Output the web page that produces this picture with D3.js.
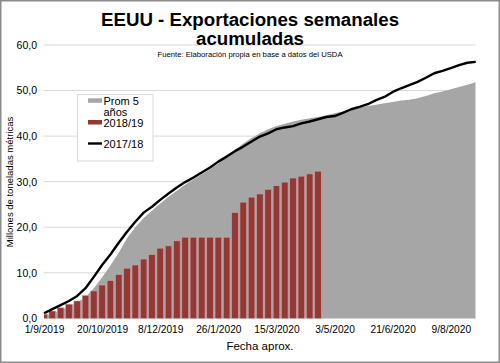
<!DOCTYPE html>
<html>
<head>
<meta charset="utf-8">
<script src="https://cdn.jsdelivr.net/npm/d3@7"></script>
<style>
  body { margin: 0; background: #fff; }
  svg { font-family: "Liberation Sans", Arial, sans-serif; display: block; }
</style>
</head>
<body>
<div id="chart-area"></div>
<script>
// weekly series, week 0 = 1/9/2019
var xLabels = ["1/9/2019", "20/10/2019", "8/12/2019", "26/1/2020", "15/3/2020", "3/5/2020", "21/6/2020", "9/8/2020"];
var xTickIdx = [0, 7, 14, 21, 28, 35, 42, 49];
var yTicks = [0, 10, 20, 30, 40, 50, 60];

// Prom 5 anios (area)
var prom5 = [0.5, 1.1, 1.8, 2.6, 3.4, 4.7, 6.6, 9.0, 11.6, 14.4,
    17.6, 20.0, 22.0, 23.6, 25.2, 26.7, 28.0, 29.3, 30.5, 31.6,
    32.7, 34.0, 35.3, 36.9, 38.4, 39.6, 40.6, 41.5, 42.2, 42.7,
    43.2, 43.6, 43.9, 44.2, 44.6, 45.0, 45.4, 45.9, 46.2, 46.6,
    46.9, 47.2, 47.5, 47.8, 48.0, 48.3, 48.8, 49.4, 49.8, 50.3,
    50.8, 51.3, 51.8];

// 2018/19 (bars)
var s1819 = [0.9, 1.6, 2.3, 3.1, 3.8, 5.0, 6.0, 7.3, 8.3, 9.6,
    11.0, 11.7, 13.0, 14.0, 15.4, 15.9, 17.0, 17.8, 17.8, 17.8,
    17.8, 17.8, 17.8, 23.2, 25.5, 26.6, 27.3, 28.3, 29.1, 29.9,
    30.8, 31.2, 31.7, 32.3];

// 2017/18 (line)
var s1718 = [1.1, 2.0, 2.9, 3.8, 4.9, 6.6, 9.1, 11.7, 14.0, 16.6,
    19.0, 21.2, 23.2, 24.5, 26.0, 27.4, 28.7, 29.9, 30.9, 32.0,
    33.1, 34.4, 35.5, 36.7, 37.7, 38.8, 39.9, 40.6, 41.5, 41.9,
    42.2, 42.8, 43.2, 43.7, 44.2, 44.4, 45.1, 45.9, 46.4, 47.0,
    47.9, 48.6, 49.7, 50.5, 51.2, 51.9, 52.8, 53.8, 54.3, 54.9,
    55.6, 56.1, 56.3];

var W = 500, H = 363;
var svg = d3.select("#chart-area").append("svg")
    .attr("width", W)
    .attr("height", H);

// outer frame
svg.append("rect")
    .attr("x", 0.75).attr("y", 0.75)
    .attr("width", W - 1.5).attr("height", H - 1.5)
    .attr("fill", "#fff")
    .attr("stroke", "#8c8c8c")
    .attr("stroke-width", 1.5);

var x = d3.scaleLinear().domain([0, 52]).range([44, 475.7]);
var y = d3.scaleLinear().domain([0, 60]).range([318.3, 45]);

// gridlines
svg.append("g")
    .selectAll("line")
    .data(yTicks).enter()
    .append("line")
        .attr("x1", 43.5).attr("x2", 475.7)
        .attr("y1", function(d) { return y(d); })
        .attr("y2", function(d) { return y(d); })
        .attr("stroke", "#d9d9d9")
        .attr("stroke-width", 1);

// y axis labels
var yAxis = svg.append("g")
    .attr("transform", "translate(37 0)")
    .call(d3.axisLeft(y).tickValues(yTicks).tickSize(0).tickPadding(0)
        .tickFormat(function(d) { return d3.format(".1f")(d).replace(".", ","); }));
yAxis.select(".domain").remove();
yAxis.selectAll("text")
    .attr("font-family", "Liberation Sans, Arial, sans-serif")
    .attr("font-size", 10.5)
    .attr("fill", "#000");

// x axis labels
var xAxis = svg.append("g")
    .attr("transform", "translate(0 326)")
    .call(d3.axisBottom(x).tickValues(xTickIdx).tickSize(0).tickPadding(0)
        .tickFormat(function(d, i) { return xLabels[i]; }));
xAxis.select(".domain").remove();
xAxis.selectAll("text")
    .attr("font-family", "Liberation Sans, Arial, sans-serif")
    .attr("font-size", 10.2)
    .attr("fill", "#000");

// clip to the plot area
svg.append("clipPath").attr("id", "plot-clip")
    .append("rect")
    .attr("x", 44).attr("y", 40)
    .attr("width", 475.7 - 44).attr("height", 280);

var plot = svg.append("g").attr("clip-path", "url(#plot-clip)");

// area
var area = d3.area()
    .x(function(d, i) { return x(i); })
    .y0(y(0))
    .y1(function(d) { return y(d); });
plot.append("path")
    .datum(prom5)
    .attr("d", area)
    .attr("fill", "#a6a6a6");

// bars
var barW = 6.6;
plot.selectAll(".bar")
    .data(s1819).enter()
    .append("rect")
        .attr("class", "bar")
        .attr("x", function(d, i) { return x(i) - barW / 2; })
        .attr("y", function(d) { return y(d); })
        .attr("width", barW)
        .attr("height", function(d) { return y(0) - y(d); })
        .attr("fill", "#953735")
        .attr("stroke", "#c4a3a2")
        .attr("stroke-width", 0.6);

// line
var line = d3.line()
    .x(function(d, i) { return x(i); })
    .y(function(d) { return y(d); });
svg.append("path")
    .datum(s1718)
    .attr("d", line)
    .attr("fill", "none")
    .attr("stroke", "#000")
    .attr("stroke-width", 2.4)
    .attr("stroke-linejoin", "round");

// legend
var lg = svg.append("g");
lg.append("rect")
    .attr("x", 77.5).attr("y", 94.5)
    .attr("width", 75.5).attr("height", 66.5)
    .attr("fill", "#fff")
    .attr("stroke", "#d9d9d9");
lg.append("rect").attr("x", 88).attr("y", 98.3).attr("width", 14).attr("height", 4.5).attr("fill", "#a6a6a6");
lg.append("rect").attr("x", 88).attr("y", 120).attr("width", 14).attr("height", 4.5).attr("fill", "#953735");
lg.append("line").attr("x1", 88).attr("x2", 102).attr("y1", 143.5).attr("y2", 143.5)
    .attr("stroke", "#000").attr("stroke-width", 2.4);
var legendText = [["Prom 5", 104.5], ["años", 115.5], ["2018/19", 127], ["2017/18", 147.5]];
lg.selectAll("text.lg")
    .data(legendText).enter()
    .append("text")
        .attr("class", "lg")
        .attr("x", 103.5)
        .attr("y", function(d) { return d[1]; })
        .attr("font-size", 11)
        .text(function(d) { return d[0]; });

// titles
svg.append("text")
    .attr("x", 250).attr("y", 25.5)
    .attr("text-anchor", "middle")
    .attr("font-size", 18.7)
    .attr("font-weight", "bold")
    .text("EEUU - Exportaciones semanales");
svg.append("text")
    .attr("x", 250).attr("y", 45)
    .attr("text-anchor", "middle")
    .attr("font-size", 18.7)
    .attr("font-weight", "bold")
    .text("acumuladas");
svg.append("text")
    .attr("x", 250).attr("y", 57)
    .attr("text-anchor", "middle")
    .attr("font-size", 7.7)
    .text("Fuente: Elaboración propia en base a datos del USDA");

// axis titles
svg.append("text")
    .attr("transform", "translate(13 182) rotate(-90)")
    .attr("text-anchor", "middle")
    .attr("font-size", 9.5)
    .text("Millones de toneladas  métricas");
svg.append("text")
    .attr("x", 260).attr("y", 349.5)
    .attr("text-anchor", "middle")
    .attr("font-size", 11.5)
    .text("Fecha aprox.");
</script>
</body>
</html>
